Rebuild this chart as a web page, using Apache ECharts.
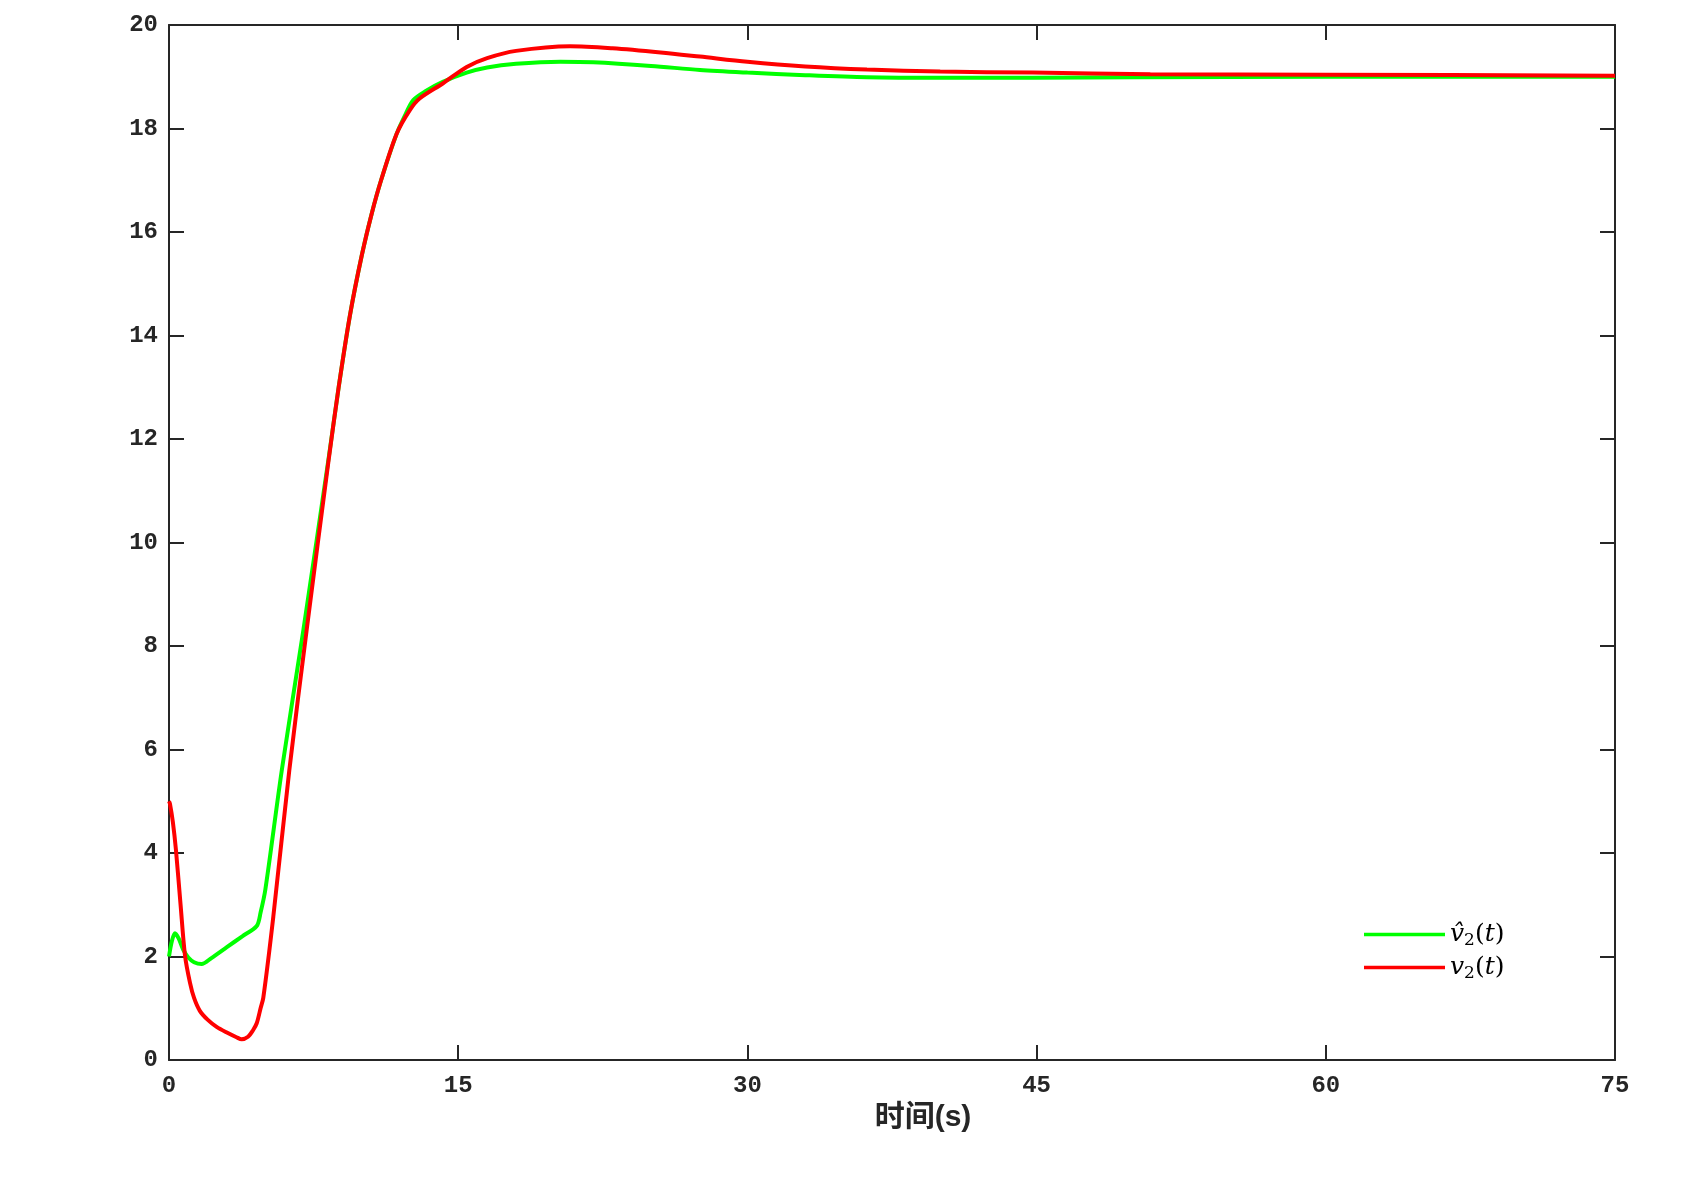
<!DOCTYPE html>
<html>
<head>
<meta charset="utf-8">
<script src="https://cdn.jsdelivr.net/npm/echarts@6/dist/echarts.min.js"></script>
<style>html,body{margin:0;padding:0;background:#fff;}#c{width:1699px;height:1177px;}</style>
</head>
<body>
<div id="c"></div>
<script>
// x tick labels (s)
const xTicks = [0, 15, 30, 45, 60, 75];
const yTicks = [0, 2, 4, 6, 8, 10, 12, 14, 16, 18, 20];
// estimated v̂2(t) : [time, value]
const vhatTime = [0, 0.15, 0.31, 0.5, 0.74, 1.0, 1.3, 1.69, 2.2, 3.0, 3.8, 4.55, 4.75, 5.0, 5.85, 6.97, 8.3, 8.8, 9.39, 10.0, 10.51, 11.0, 11.81, 12.3, 12.67, 13.3, 14.2, 15.44, 16.5, 18, 20.3, 22, 25, 27.54, 30, 33, 36.2, 40, 44.8, 50, 60, 75];
const vhatVal  = [2.0, 2.3, 2.45, 2.35, 2.13, 1.98, 1.89, 1.855, 1.97, 2.18, 2.39, 2.59, 2.85, 3.3, 5.6, 8.31, 11.68, 13.0, 14.4, 15.55, 16.35, 17.0, 17.9, 18.3, 18.55, 18.72, 18.9, 19.08, 19.18, 19.25, 19.29, 19.28, 19.21, 19.13, 19.08, 19.03, 18.99, 18.98, 18.98, 18.99, 19.0, 19.0];
// estimated v2(t)
const vTime = [0, 0.05, 0.2, 0.36, 0.6, 0.83, 1.09, 1.3, 1.6, 2.0, 2.47, 3.0, 3.5, 3.77, 4.1, 4.35, 4.55, 4.75, 4.89, 5.41, 6.24, 7.14, 8.3, 8.8, 9.39, 10.0, 10.51, 11.0, 11.81, 12.5, 13.0, 14.2, 15.44, 16.5, 18, 20.8, 23, 25.5, 27.54, 30, 33, 36.2, 40, 44.8, 50.9, 60, 75];
const vVal  = [5.0, 4.95, 4.6, 4.06, 3.0, 2.02, 1.49, 1.2, 0.95, 0.78, 0.64, 0.53, 0.44, 0.40, 0.45, 0.57, 0.71, 1.0, 1.2, 2.77, 5.6, 8.31, 11.65, 13.0, 14.4, 15.55, 16.35, 17.0, 17.9, 18.36, 18.58, 18.87, 19.19, 19.36, 19.5, 19.59, 19.55, 19.47, 19.39, 19.29, 19.2, 19.14, 19.1, 19.08, 19.05, 19.04, 19.02];

const zip = (a, b) => a.map((t, i) => [t, b[i]]);
const axisColor = '#262626';
const labelFont = { fontFamily: 'Liberation Mono', fontWeight: 'bold', fontSize: 24, color: '#262626' };

const chart = echarts.init(document.getElementById('c'), null, { renderer: 'canvas' });
const xBase = {
  type: 'value', min: xTicks[0], max: xTicks[xTicks.length - 1], interval: 15,
  axisLine: { show: true, onZero: false, lineStyle: { color: axisColor, width: 2 } },
  axisTick: { show: true, inside: true, length: 15, lineStyle: { color: axisColor, width: 2 } },
  splitLine: { show: false }
};
const yBase = {
  type: 'value', min: yTicks[0], max: yTicks[yTicks.length - 1], interval: 2,
  axisLine: { show: true, onZero: false, lineStyle: { color: axisColor, width: 2 } },
  axisTick: { show: true, inside: true, length: 15, lineStyle: { color: axisColor, width: 2 } },
  splitLine: { show: false }
};
const rich = {
  i: { fontFamily: 'DejaVu Serif', fontStyle: 'italic', fontSize: 25, color: '#000' },
  n: { fontFamily: 'DejaVu Serif', fontSize: 25, color: '#000' },
  s: { fontFamily: 'DejaVu Serif', fontSize: 17, color: '#000', padding: [12, 0, 0, 0] }
};
chart.setOption({
  animation: false,
  backgroundColor: '#fff',
  grid: { left: 169, top: 25, width: 1446, height: 1035, containLabel: false },
  xAxis: [
    Object.assign({}, xBase, {
      position: 'bottom',
      name: '时间(s)', nameLocation: 'middle', nameGap: 41,
      nameTextStyle: { fontFamily: 'Liberation Sans, Noto Sans CJK SC', fontWeight: 'bold', fontSize: 30, color: '#262626', padding: [0, 0, 0, 62] },
      axisLabel: Object.assign({ margin: 14 }, labelFont)
    }),
    Object.assign({}, xBase, { position: 'top', axisLabel: { show: false } })
  ],
  yAxis: [
    Object.assign({}, yBase, { position: 'left', axisLabel: Object.assign({ margin: 11 }, labelFont) }),
    Object.assign({}, yBase, { position: 'right', axisLabel: { show: false } })
  ],
  legend: {
    left: 1359, top: 917, orient: 'vertical', itemWidth: 81, itemHeight: 24, itemGap: 6,
    icon: 'path://M0,10.5 L81,10.5 L81,14 L0,14 Z',
    formatter: function (name) {
      return name === 'v̂2(t)' ? '{i|v̂}{s|2}{n|(}{i|t}{n|)}' : '{i|v}{s|2}{n|(}{i|t}{n|)}';
    },
    textStyle: { rich: rich, padding: [0, 0, 0, 0] }
  },
  series: [
    { name: 'v̂2(t)', type: 'line', data: zip(vhatTime, vhatVal), symbol: 'none', smooth: 0.3,
      lineStyle: { color: '#00ff00', width: 4 }, itemStyle: { color: '#00ff00' }, z: 2 },
    { name: 'v2(t)', type: 'line', data: zip(vTime, vVal), symbol: 'none', smooth: 0.3,
      lineStyle: { color: '#ff0000', width: 4 }, itemStyle: { color: '#ff0000' }, z: 3 }
  ]
});
</script>
</body>
</html>
